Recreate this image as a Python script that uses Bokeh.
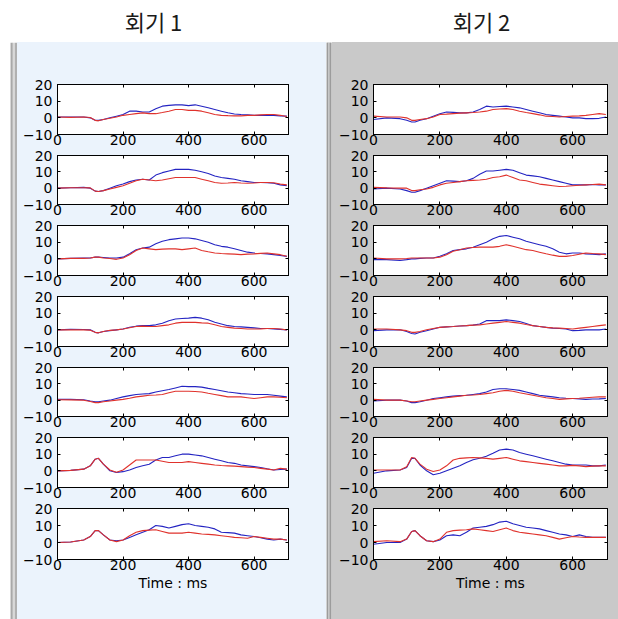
from bokeh.plotting import figure
from bokeh.models import LinearAxis, Span, Range1d
from bokeh.layouts import row, column
from bokeh.embed import file_html
from bokeh.resources import INLINE

# ---------------- data ----------------
time_ms = [0, 40, 80, 100, 115, 125, 140, 160, 180, 200, 220, 240, 260, 280, 300,
           320, 340, 360, 380, 400, 420, 440, 460, 480, 500, 520, 540, 560, 580, 600,
           620, 640, 660, 680, 700]

session_titles = ["회기 1", "회기 2"]
x_ticks = [0, 200, 400, 600]
y_ticks = [-10, 0, 10, 20]
x_label = "Time : ms"

session1_blue = [
    [0.5, 0.5, 0.5, 0, -1.5, -1.5, -1, 0, 1, 2, 4, 4, 3.5, 3.5, 5.5, 7, 7.5, 7.8, 7.8, 7.3, 7.8, 7, 6, 5, 4, 3, 2.3, 2, 1.8, 1.5, 1.5, 1.5, 1.5, 1.2, 1],
    [0, 0.3, 0.5, 0, -1.8, -2, -1.5, 0, 1.5, 2.5, 4, 5, 5.5, 5, 8, 9.5, 10.5, 11.5, 11.5, 11.5, 11, 10, 9, 7.5, 6.5, 6, 5.5, 4.5, 4, 3.5, 3.5, 3.3, 3, 2, 1.5],
    [0, 0.3, 0.5, 0.5, 1, 1, 0.8, 0.5, 0.5, 1, 3, 5.5, 6.5, 7, 9, 10.5, 11.5, 12, 12.5, 12.5, 12, 11, 10, 8.5, 7.5, 7, 6, 5, 4, 3.5, 3.2, 3, 2.5, 2, 1.5],
    [0, 0.3, 0.2, 0, -1.5, -1.8, -1, -0.5, 0, 0.5, 1.5, 2.2, 2.5, 2.5, 3, 4, 5.5, 6.5, 6.8, 7, 7.5, 7, 6, 4.5, 3.5, 2.5, 2, 1.8, 1.5, 1.2, 0.8, 0.8, 0.6, 0.3, 0],
    [0.5, 0.5, 0.3, -0.5, -1, -1, -0.5, 0, 1, 2, 2.8, 3.5, 3.8, 4, 5, 5.8, 6.5, 7.5, 8.5, 8.3, 8.3, 8, 7.2, 6.5, 5.8, 5, 4.5, 4, 3.8, 3.5, 3.5, 3.5, 3, 2.5, 2],
    [0, 0.3, 1, 3, 7, 7.5, 4, 0, -1, -0.5, 0.5, 2, 3, 4, 6.5, 8, 8, 9, 10, 10, 9.5, 9, 8, 7, 6, 5, 4.5, 3.5, 3, 2.5, 2, 1.2, 0.5, 0.8, 1],
    [0, 0.3, 1.5, 3.5, 7, 7, 4.5, 1.5, 1, 1.5, 3, 4.5, 6, 7.5, 10, 9.5, 8.5, 9.5, 10.5, 11, 10, 9.5, 9, 8, 6, 5.8, 5.5, 4.5, 4, 3.5, 2.8, 2, 1.5, 2, 1.5],
]
session1_red = [
    [0.5, 0.3, 0.5, 0.2, -1.5, -1.8, -1, -0.3, 0.5, 1.5, 2, 2.5, 3, 2.5, 2.5, 3.2, 4, 5, 5, 4.5, 4.5, 4, 3, 2, 1.5, 1.3, 1.2, 1.2, 1.5, 1.5, 1.8, 2, 2, 1.5, 0.8],
    [0, 0.3, 0.3, 0.2, -1.8, -2, -1.5, -0.5, 0.5, 1.5, 3, 4.5, 5.5, 5, 4.5, 5, 5.8, 6.5, 6.5, 6.5, 6.5, 5.5, 4.5, 3.5, 3, 3.2, 3.5, 3.2, 3, 3.2, 3.5, 3.5, 3.3, 2.5, 2],
    [0, 0.3, 0.3, 0.5, 1, 1, 0.5, 0.2, -0.3, 0.5, 2.5, 5, 6.5, 6, 5.5, 5.8, 6, 6, 5.5, 6, 6.5, 5, 4.2, 3.5, 3.2, 3, 2.8, 2.5, 2.8, 3, 3.3, 3.5, 3, 2.5, 1.5],
    [0, 0, 0, -0.2, -1.5, -1.8, -1, -0.3, 0, 0.5, 1.3, 2, 2.2, 2, 2, 2.5, 3, 4, 4.5, 4.5, 4.5, 4.2, 4, 3, 2, 1.5, 1, 0.8, 0.5, 0.5, 0.6, 0.8, 0.8, 0.5, 0],
    [0.3, 0.2, 0, -0.8, -1.5, -1.5, -1, -0.5, 0, 0.5, 1.2, 2, 2.5, 3, 3.2, 3.5, 4.5, 5.5, 5.5, 5.5, 5.3, 5, 4.2, 3.5, 2.8, 2, 2, 2, 1.5, 1, 1.5, 2, 2, 1.8, 1.5],
    [0, 0.3, 1, 3, 7, 7.5, 4, 0.5, -0.8, 0.5, 3.5, 6.5, 6.5, 6.5, 6.5, 5.8, 5, 5, 5, 5.5, 5, 4.5, 4, 3.5, 3.2, 3, 2.8, 2.5, 2.2, 2, 1.5, 1, 0.5, 1.5, 1],
    [0, 0.3, 1.5, 3.5, 7, 7, 4.5, 1.5, 0.5, 1.5, 4, 6, 7, 7.3, 7.5, 6.5, 5.5, 5.5, 5.5, 6, 5.5, 5, 4.8, 4.5, 4, 3.5, 3, 2.8, 2.5, 3.5, 3, 2.5, 2, 2, 1.5],
]
session2_blue = [
    [-1, 0, -0.5, -1.5, -2.5, -2.5, -1.5, -0.5, 1, 2.5, 3.5, 3.3, 3, 3, 3.5, 5, 7, 6.5, 6.8, 7, 6.5, 6, 5, 4, 3, 2, 1.5, 1, 0.5, 0, 0, -0.5, -0.5, -0.3, 0.5],
    [-0.5, 0, -0.5, -1.5, -2.5, -2.5, -1.5, 0, 1.5, 3, 4.5, 4.3, 4, 4.5, 6, 8.5, 10.5, 10.5, 11, 11.5, 11, 9.5, 8, 7.5, 7, 6, 5, 4, 3, 2, 2, 2, 2.2, 2, 2],
    [-0.5, -0.5, -1, -0.5, 0, 0, 0.3, 0.5, 0.5, 1.5, 3, 5, 5.5, 6, 7, 8.5, 10, 12, 13.5, 14, 13, 12, 10.5, 9.5, 8.5, 7.5, 6, 4, 3, 3.5, 3.5, 3, 2.8, 2.5, 3],
    [-0.5, 0, 0, -1, -2.2, -2.5, -1.5, -0.5, 0.5, 1.5, 1.8, 2, 2.3, 2.5, 2.8, 3.5, 5.5, 5.5, 5.5, 6, 5.5, 5, 3.8, 2.5, 2, 1.5, 1, 0.8, 0.5, -0.5, -0.3, 0, 0, 0, 0.5],
    [-0.5, 0, 0, -0.5, -1.5, -1.5, -1, 0, 1, 1.5, 2, 2.5, 2.8, 3, 3.5, 4, 5, 6.5, 7, 7, 6.5, 6, 5, 4, 3, 2.5, 2, 1.5, 1.2, 1, 0.8, 0.5, 0.7, 0.8, 1],
    [-1.5, 0, 0.5, 2, 7.5, 7.5, 3.5, 0, -2.3, -1.5, 0, 1.5, 3, 5, 6.7, 7.5, 8.7, 10.5, 12.5, 13, 12.5, 11, 10, 9, 8, 7, 6, 5, 4, 3.5, 3.5, 3.5, 3, 3, 3.5],
    [-1, 0, 0, 2, 6.5, 7, 4, 1, 0.5, 1.5, 4, 4.5, 4, 6, 8.5, 9, 9.5, 10.5, 12, 12.5, 11, 10, 9, 8.5, 8, 7, 6, 5, 4.5, 3.5, 4.5, 3.5, 3, 3, 3],
]
session2_red = [
    [1, 0.5, 0.5, 0, -1.5, -1.5, -1, -0.5, 0.5, 2, 2.2, 2.5, 2.8, 3, 3.2, 3.5, 4, 5, 5.3, 5.5, 5, 4, 3.2, 2.5, 1.8, 1, 0.8, 0.5, 0.8, 1, 1.2, 1.5, 2, 2.5, 2],
    [0.5, 0.2, 0, 0, -1.5, -1.5, -1, -0.5, 0.5, 2, 3, 3.5, 4, 4.5, 4.8, 5, 5.5, 6.5, 7, 8, 6.5, 5, 4.5, 3.5, 2.5, 2, 1.5, 1, 1.2, 1.5, 1.8, 2, 2.2, 2.5, 2],
    [0.5, 0, 0, 0.2, 0.5, 0.5, 0.5, 0.5, 0.5, 1, 2.5, 4.5, 5.5, 6.5, 6.8, 7, 7, 7, 7.5, 8.5, 7.5, 6.5, 5.5, 5, 4, 3, 2.2, 1.5, 1.5, 2, 2.8, 3.5, 3.2, 3, 2.5],
    [0.5, 0.5, 0, -0.5, -1.5, -1.5, -1, 0, 0.8, 1.5, 1.8, 2, 2.3, 2.5, 2.8, 3, 3.5, 4, 4.5, 5, 4.5, 4, 3.2, 2.5, 2, 1.5, 1.2, 1, 0.8, 0.5, 1, 1.5, 2, 2.5, 3],
    [0.5, 0, 0, -0.5, -1, -1, -0.5, 0, 0.5, 1, 1.5, 2, 2.5, 3, 3.2, 3.5, 4, 4.5, 5.5, 6, 5.5, 4.5, 3.8, 3, 2.2, 1.5, 1, 0.5, 0.8, 1, 1.2, 1.5, 1.8, 2, 2],
    [0.5, 0.5, 0.5, 2.5, 8, 7.5, 4, 1, -0.4, 0.5, 3, 6.5, 7.5, 7.8, 8, 7.8, 7.5, 7, 7.5, 8, 7, 6, 5.5, 5, 4.5, 4, 3.5, 3, 3, 3.3, 3, 2.5, 2.8, 3, 3],
    [0.5, 1, 0.5, 2, 6.5, 7, 4, 1, 0.5, 2, 6, 7, 7.3, 7.5, 8, 7.5, 7, 6.5, 7.5, 8.5, 7, 6, 5.5, 5, 4.5, 4, 3, 2, 2.8, 3.5, 3.2, 3, 3, 3, 3],
]

for grp in (session1_blue, session1_red, session2_blue, session2_red):
    for s in grp:
        assert len(s) == len(time_ms)

# ---------------- style ----------------
BLUE = "#2424c2"
RED = "#e0322c"
LEFT_BG = "#ebf3fc"
RIGHT_BG = "#c9c9c9"
TICK_FONT = "DejaVu Sans"

fig_heights = [105, 70, 71, 71, 70, 71, 119]
fig_tops = [42, 8, 8, 8, 8, 8, 8]
fig_bottoms = [0, 0, 0, 0, 0, 0, 60]


def style_axis(ax, font_size="14px"):
    ax.major_tick_in = 3
    ax.major_tick_out = 0
    ax.minor_tick_line_color = None
    ax.axis_line_color = "black"
    ax.major_tick_line_color = "black"
    ax.major_label_text_font = TICK_FONT
    ax.major_label_text_font_size = font_size
    ax.major_label_text_color = "black"


def make_subplot(blue, red, k, width, bleft, bright, bg):
    p = figure(width=width, height=fig_heights[k],
               x_range=Range1d(0, 705), y_range=Range1d(-10, 20),
               output_backend="svg", toolbar_location=None,
               min_border_left=bleft, min_border_right=bright,
               min_border_top=fig_tops[k], min_border_bottom=fig_bottoms[k])
    p.border_fill_color = bg
    p.background_fill_color = "white"
    p.outline_line_color = "black"
    p.grid.visible = False
    p.line(time_ms, blue, line_color=BLUE, line_width=1.1)
    p.line(time_ms, red, line_color=RED, line_width=1.1)
    xax = p.xaxis[0]
    yax = p.yaxis[0]
    xax.ticker = x_ticks
    yax.ticker = y_ticks
    style_axis(xax)
    xax.major_label_standoff = 0
    style_axis(yax)
    yax.major_label_standoff = 5
    if k == 6:
        xax.axis_label = x_label
        xax.axis_label_text_font = TICK_FONT
        xax.axis_label_text_font_size = "14px"
        xax.axis_label_text_font_style = "normal"
        xax.axis_label_text_color = "black"
        xax.axis_label_standoff = 2
    top = LinearAxis(ticker=x_ticks, major_label_standoff=0)
    style_axis(top, "0px")
    top.major_label_text_color = None
    p.add_layout(top, "above")
    right = LinearAxis(ticker=y_ticks, major_label_standoff=0)
    style_axis(right, "0px")
    right.major_label_text_color = None
    p.add_layout(right, "right")
    return p


def make_title(text, width, bleft, bright):
    t = figure(width=width, height=42, x_range=Range1d(0, 1), y_range=Range1d(0, 1),
               output_backend="svg", toolbar_location=None,
               x_axis_location=None, y_axis_location=None,
               min_border_left=bleft, min_border_right=bright,
               min_border_top=36, min_border_bottom=0)
    t.grid.visible = False
    t.outline_line_color = None
    t.border_fill_color = "white"
    t.background_fill_color = "white"
    t.title.text = text
    t.title.align = "center"
    t.title.text_font = "Noto Sans CJK KR"
    t.title.text_font_size = "22px"
    t.title.text_font_style = "normal"
    t.title.text_color = "#1a1a1a"
    t.title.standoff = 0
    return t


def make_strip(width, height, bg, lines):
    s = figure(width=width, height=height, x_range=Range1d(0, width), y_range=Range1d(0, 1),
               output_backend="svg", toolbar_location=None,
               x_axis_location=None, y_axis_location=None, min_border=0)
    s.grid.visible = False
    s.outline_line_color = None
    s.border_fill_color = bg
    s.background_fill_color = bg
    for loc, lw, col in lines:
        s.add_layout(Span(location=loc, dimension="height", line_color=col, line_width=lw))
    return s


panel_h = sum(fig_heights)

# left session
left_figs = [make_subplot(session1_blue[k], session1_red[k], k, 309, 40, 38, LEFT_BG) for k in range(7)]
left_strip = make_strip(17, panel_h, "white",
                        [(11.2, 2.3, "#a8a8a8"), (13.3, 2, "#d8d8d8"), (15.5, 2.4, "#b0b0b0")])
left_title = make_title(session_titles[0], 326, 0, 20)
left_stack = column(*left_figs, styles={"background-color": LEFT_BG})
left_col = column(left_title, row(left_strip, left_stack))

# right session
right_figs = [make_subplot(session2_blue[k], session2_red[k], k, 286, 41, 11, RIGHT_BG) for k in range(7)]
right_strip = make_strip(6, panel_h, RIGHT_BG,
                         [(1, 2, "#9c9c9c"), (2.5, 1, "#dcdcdc"), (3.8, 1.5, "#9c9c9c")])
right_title = make_title(session_titles[1], 292, 18, 0)
right_stack = column(*right_figs, styles={"background-color": RIGHT_BG})
right_col = column(right_title, row(right_strip, right_stack))

layout = row(left_col, right_col)

with open("out.html", "w") as f:
    f.write(file_html(layout, INLINE))
